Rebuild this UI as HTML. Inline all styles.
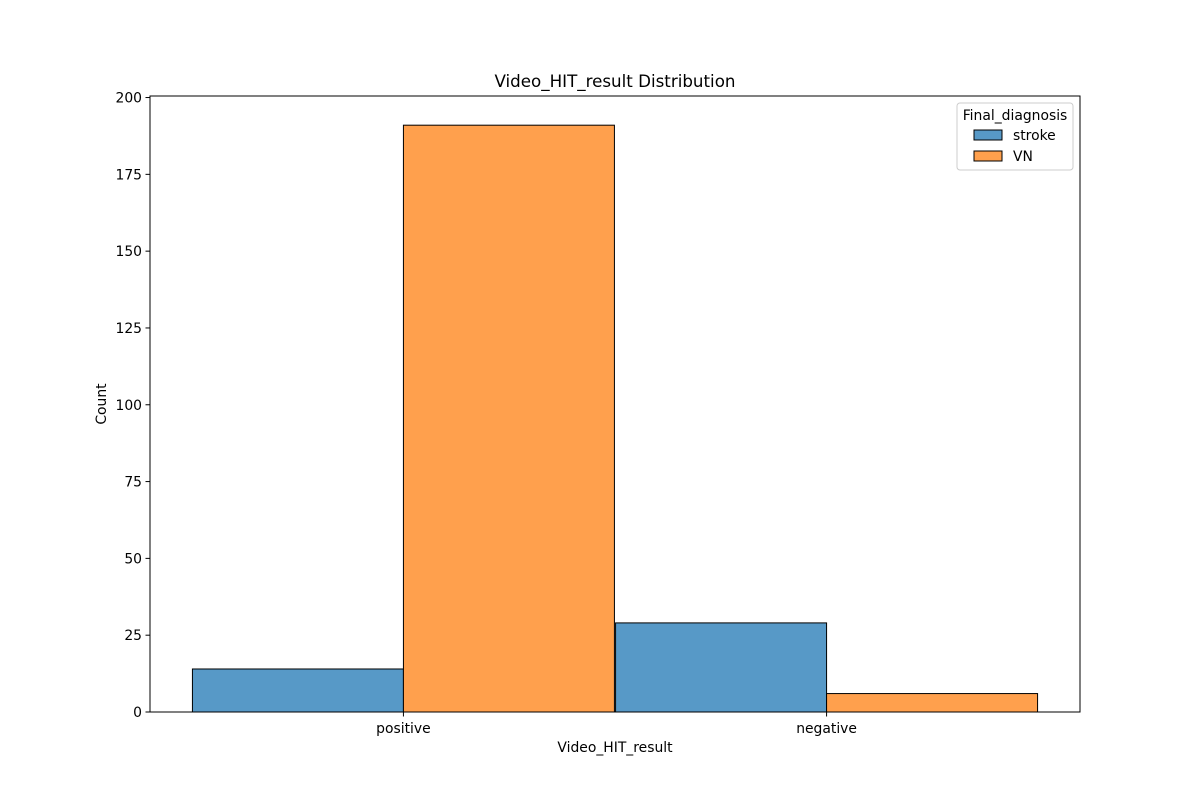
<!DOCTYPE html>
<html><head><meta charset="utf-8"><style>
body{margin:0;background:#fff;}
svg{display:block;font-family:"DejaVu Sans","Liberation Sans",sans-serif;}
</style></head><body>
<svg id="chart" width="1200" height="800"></svg>
<script>
const categories = ["positive","negative"];
const seriesNames = ["stroke","VN"];
const strokeValues = [14, 29];
const vnValues = [191, 6];
const yTicks = [0,25,50,75,100,125,150,175,200];
const colors = ["#5799c7","#ffa04d"];

const NS="http://www.w3.org/2000/svg";
const svg=document.getElementById('chart');
const L=150,R=1080,T=96,B=712, yMax=200.5;
const FS=13.9;
const y=v=>B-(v/yMax)*(B-T);
const catCenter=i=>L+(R-L)*((i+0.5)/categories.length)*0.91+ (R-L)*0.045;
const barW=211;
function mk(tag,attrs,text){const e=document.createElementNS(NS,tag);for(const k in attrs)e.setAttribute(k,attrs[k]);if(text!==undefined)e.textContent=text;svg.appendChild(e);return e;}

const series=[strokeValues,vnValues];
categories.forEach((c,i)=>{
  const cx=catCenter(i);
  series.forEach((vals,s)=>{
    const x0=cx-barW+s*barW;
    const r=mk('rect',{x:x0,y:y(vals[i]),width:barW,height:B-y(vals[i]),fill:colors[s],stroke:'#000','stroke-width':1});
    
    
  });
  mk('line',{x1:cx,x2:cx,y1:B,y2:B+4.5,stroke:'#000'});
  const t=mk('text',{x:cx,y:B+21,'text-anchor':'middle','font-size':FS},c);
  
  
});
yTicks.forEach(v=>{
  mk('line',{x1:L-4.5,x2:L,y1:y(v),y2:y(v),stroke:'#000'});
  const t=mk('text',{x:L-8,y:y(v)+5,'text-anchor':'end','font-size':FS},String(v));
  
  
});
const frame=mk('rect',{x:L,y:T,width:R-L,height:B-T,fill:'none',stroke:'#000','stroke-width':1});


const title=mk('text',{x:(L+R)/2,y:T-9,'text-anchor':'middle','font-size':16.7},'Video_HIT_result Distribution');


const xt=mk('text',{x:(L+R)/2,y:752,'text-anchor':'middle','font-size':FS},'Video_HIT_result');


const yt=mk('text',{x:106,y:(T+B)/2,'text-anchor':'middle','font-size':FS,transform:'rotate(-90 106 '+((T+B)/2)+')'},'Count');


// legend
const lg=mk('rect',{x:957,y:103,width:116,height:67,rx:3,fill:'#fff','fill-opacity':0.8,stroke:'#ccc'});


const lt=mk('text',{x:1015,y:120,'text-anchor':'middle','font-size':FS},'Final_diagnosis');


seriesNames.forEach((n,s)=>{
  const yy=130+s*21;
  const sw=mk('rect',{x:974,y:yy,width:28,height:10,fill:colors[s],stroke:'#000'});
  
  
  const tx=mk('text',{x:1013,y:yy+10,'font-size':FS},n);
  
  
});
</script>
</body></html>
